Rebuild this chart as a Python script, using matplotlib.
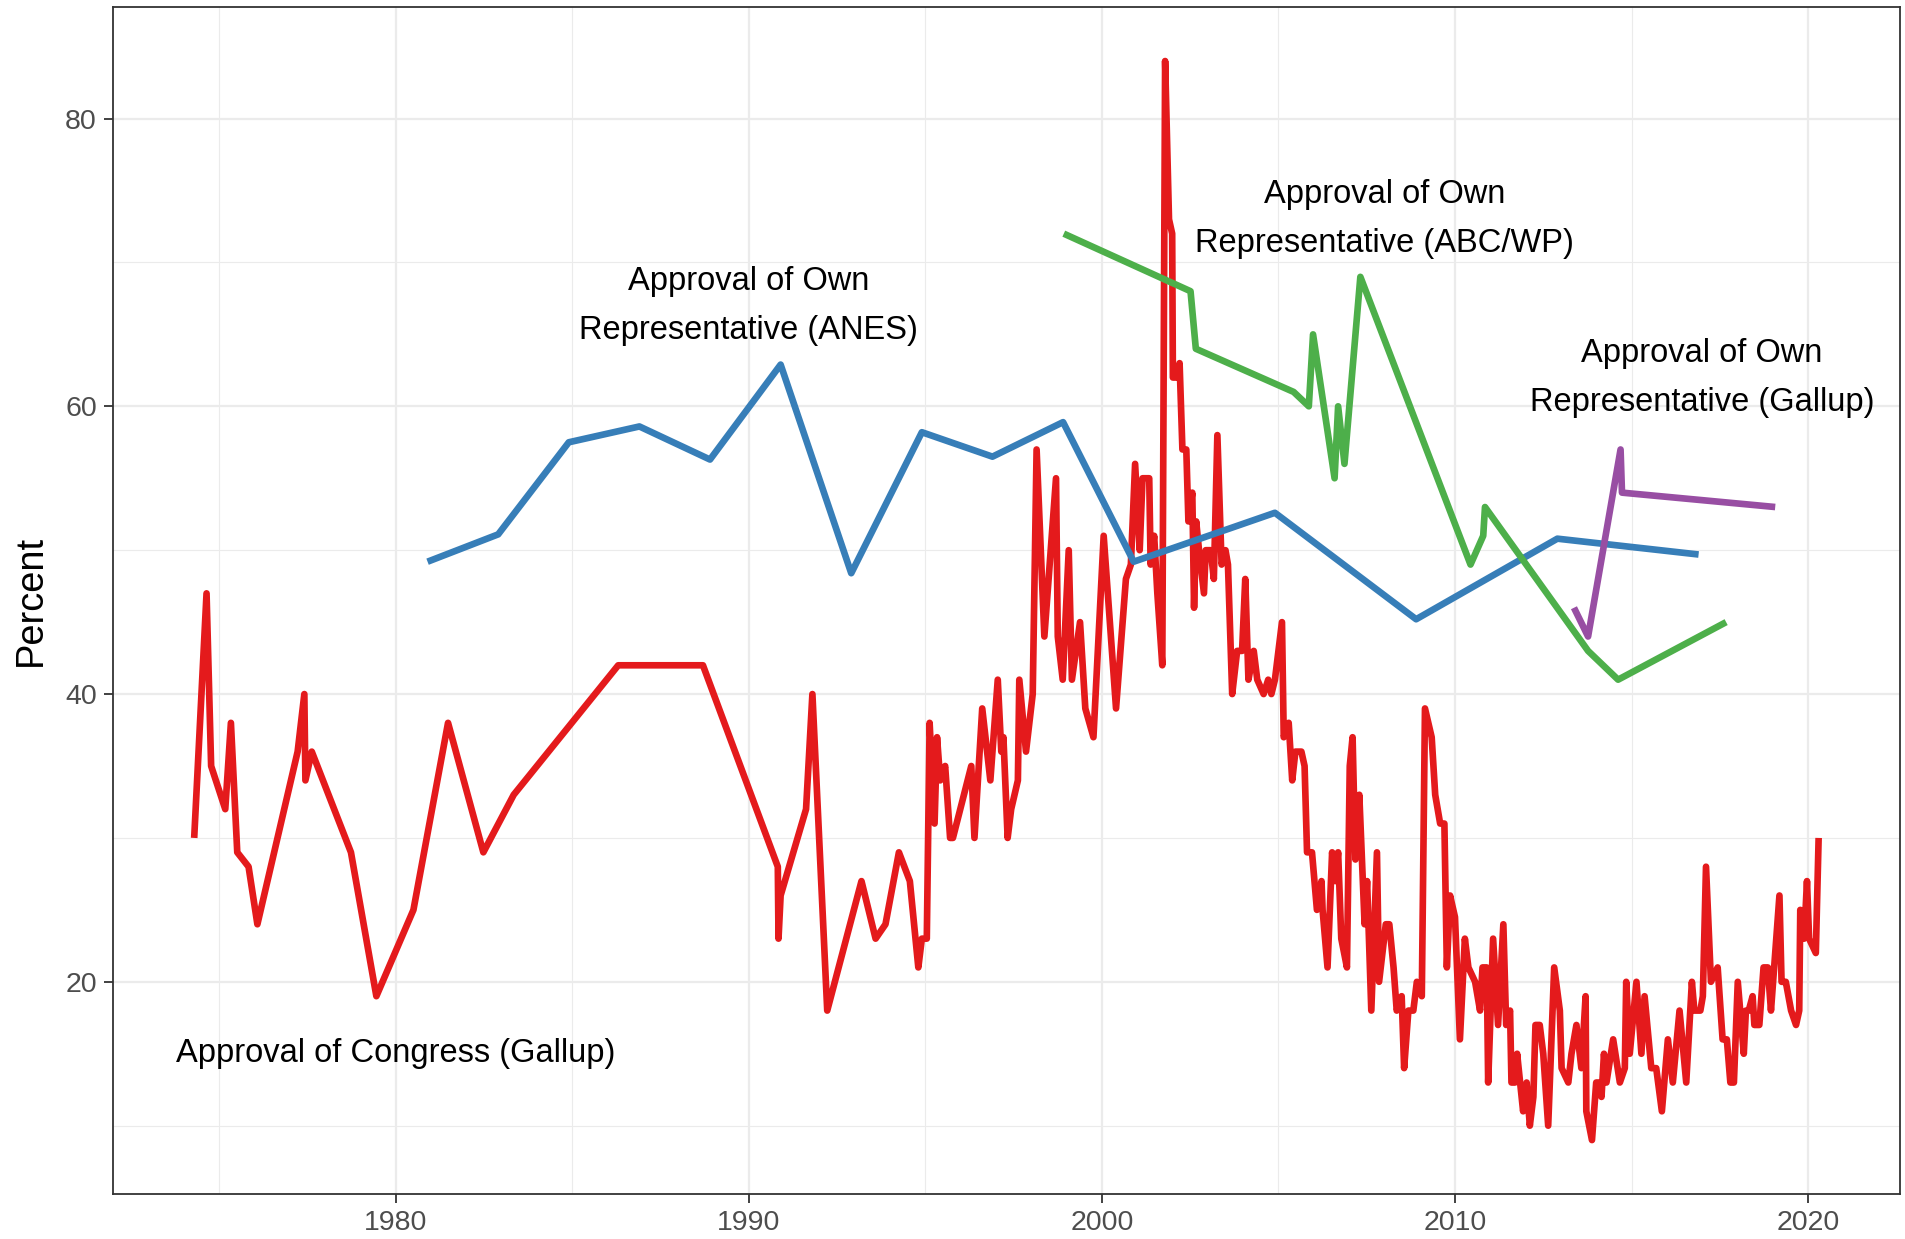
import numpy as np
import matplotlib
matplotlib.use("Agg")
import matplotlib.pyplot as plt
from matplotlib.ticker import MultipleLocator

plt.rcParams['font.family'] = ['Liberation Sans', 'DejaVu Sans']

# Gallup: approval of Congress
congress_year = [
    1974.29, 1974.64, 1974.77, 1975.17, 1975.33, 1975.51, 1975.83, 1976.08, 1977.22, 1977.41,
    1977.44, 1977.62, 1978.73, 1979.45, 1980.50, 1981.48, 1982.48, 1983.34, 1986.30, 1988.70,
    1990.82, 1990.84, 1990.90, 1991.62, 1991.80, 1992.22, 1993.19, 1993.59, 1993.87, 1994.25,
    1994.56, 1994.80, 1994.90, 1995.04, 1995.12, 1995.26, 1995.33, 1995.42, 1995.56, 1995.70,
    1995.78, 1996.30, 1996.39, 1996.61, 1996.84, 1997.05, 1997.15, 1997.21, 1997.33, 1997.43,
    1997.62, 1997.66, 1997.85, 1998.04, 1998.15, 1998.37, 1998.70, 1998.75, 1998.89, 1999.06,
    1999.15, 1999.38, 1999.53, 1999.76, 2000.05, 2000.40, 2000.68, 2000.82, 2000.94, 2001.07,
    2001.15, 2001.34, 2001.38, 2001.48, 2001.57, 2001.71, 2001.79, 2001.90, 2001.99, 2002.01,
    2002.14, 2002.20, 2002.28, 2002.39, 2002.45, 2002.56, 2002.61, 2002.67, 2002.75, 2002.89,
    2002.94, 2003.08, 2003.17, 2003.27, 2003.39, 2003.50, 2003.57, 2003.69, 2003.83, 2003.97,
    2004.06, 2004.15, 2004.30, 2004.40, 2004.58, 2004.71, 2004.80, 2004.90, 2005.10, 2005.15,
    2005.29, 2005.39, 2005.48, 2005.65, 2005.74, 2005.81, 2005.95, 2006.09, 2006.22, 2006.25,
    2006.39, 2006.52, 2006.61, 2006.69, 2006.78, 2006.94, 2007.02, 2007.10, 2007.18, 2007.29,
    2007.44, 2007.51, 2007.63, 2007.79, 2007.85, 2008.04, 2008.14, 2008.26, 2008.35, 2008.49,
    2008.56, 2008.68, 2008.82, 2008.92, 2009.06, 2009.15, 2009.34, 2009.44, 2009.58, 2009.70,
    2009.77, 2009.86, 2010.00, 2010.14, 2010.28, 2010.38, 2010.57, 2010.71, 2010.78, 2010.90,
    2010.94, 2011.08, 2011.22, 2011.37, 2011.45, 2011.56, 2011.60, 2011.70, 2011.76, 2011.93,
    2012.03, 2012.12, 2012.22, 2012.28, 2012.40, 2012.50, 2012.64, 2012.81, 2012.97, 2013.02,
    2013.21, 2013.30, 2013.44, 2013.58, 2013.70, 2013.72, 2013.88, 2014.00, 2014.08, 2014.15,
    2014.22, 2014.29, 2014.48, 2014.67, 2014.81, 2014.85, 2014.95, 2015.14, 2015.28, 2015.37,
    2015.56, 2015.70, 2015.86, 2016.03, 2016.17, 2016.36, 2016.55, 2016.71, 2016.78, 2016.95,
    2017.02, 2017.11, 2017.25, 2017.44, 2017.58, 2017.70, 2017.80, 2017.90, 2018.01, 2018.18,
    2018.24, 2018.32, 2018.43, 2018.48, 2018.62, 2018.74, 2018.86, 2018.95, 2019.19, 2019.25,
    2019.37, 2019.52, 2019.66, 2019.75, 2019.78, 2019.89, 2019.97, 2020.03, 2020.22, 2020.30,
]
congress_pct = [
    30, 47, 35, 32, 38, 29, 28, 24, 36, 40,
    34, 36, 29, 19, 25, 38, 29, 33, 42, 42,
    28, 23, 26, 32, 40, 18, 27, 23, 24, 29,
    27, 21, 23, 23, 38, 31, 37, 34, 35, 30,
    30, 35, 30, 39, 34, 41, 36, 37, 30, 32,
    34, 41, 36, 40, 57, 44, 55, 44, 41, 50,
    41, 45, 39, 37, 51, 39, 48, 49, 56, 50,
    55, 55, 49, 51, 47, 42, 84, 73, 72, 62,
    62, 63, 57, 57, 52, 54, 46, 52, 50, 47,
    50, 50, 48, 58, 49, 50, 49, 40, 43, 43,
    48, 41, 43, 41, 40, 41, 40, 41, 45, 37,
    38, 34, 36, 36, 35, 29, 29, 25, 27, 25,
    21, 29, 27, 29, 23, 21, 35, 37, 28.5, 33,
    24, 27, 18, 29, 20, 24, 24, 21, 18, 19,
    14, 18, 18, 20, 19, 39, 37, 33, 31, 31,
    21, 26, 24.5, 16, 23, 21, 20, 18, 21, 21,
    13, 23, 17, 24, 17, 18, 13, 13, 15, 11,
    13, 10, 12, 17, 17, 15, 10, 21, 18, 14,
    13, 15, 17, 14, 19, 11, 9, 13, 13, 12,
    15, 13, 16, 13, 14, 20, 15, 20, 15, 19,
    14, 14, 11, 16, 13, 18, 13, 20, 18, 18,
    19, 28, 20, 21, 16, 16, 13, 13, 20, 15,
    18, 18, 19, 17, 17, 21, 21, 18, 26, 20,
    20, 18, 17, 18, 25, 23, 27, 23, 22, 30,
]

# ANES: approval of own representative
anes_year = [1980.9, 1982.9, 1984.9, 1986.9, 1988.9, 1990.9, 1992.9, 1994.9,
             1996.9, 1998.9, 2000.9, 2004.9, 2008.9, 2012.9, 2016.9]
anes_pct = [49.2, 51.1, 57.5, 58.6, 56.3, 62.9, 48.4, 58.2,
            56.5, 58.9, 49.2, 52.6, 45.2, 50.8, 49.7]

# ABC/WP: approval of own representative
abc_year = [1998.92, 2002.51, 2002.66, 2005.43, 2005.86, 2005.98, 2006.59, 2006.69,
            2006.87, 2007.32, 2010.44, 2010.80, 2010.85, 2013.77, 2014.62, 2017.68]
abc_pct = [72, 68, 64, 61, 60, 65, 55, 60,
           56, 69, 49, 51, 53, 43, 41, 45]

# Gallup: approval of own representative
gallup_rep_year = [2013.37, 2013.77, 2014.69, 2014.73, 2019.07]
gallup_rep_pct = [46, 44, 57, 54, 53]

labels = ["Approval of Congress (Gallup)",
          "Approval of Own\nRepresentative (ANES)",
          "Approval of Own\nRepresentative (ABC/WP)",
          "Approval of Own\nRepresentative (Gallup)"]
label_x = [1980, 1990, 2008, 2017]
label_y = [15, 67, 73, 62]

fig = plt.figure(figsize=(19.05, 12.39), dpi=100)
ax = fig.add_axes([0.0593, 0.0363, 0.938, 0.958])

lw = 4.8
ax.plot(congress_year, congress_pct, color='#E41A1C', lw=lw, solid_capstyle='butt', zorder=3)
ax.plot(anes_year, anes_pct, color='#377EB8', lw=lw, solid_capstyle='butt', zorder=3)
ax.plot(abc_year, abc_pct, color='#4DAF4A', lw=lw, solid_capstyle='butt', zorder=3)
ax.plot(gallup_rep_year, gallup_rep_pct, color='#984EA3', lw=lw, solid_capstyle='butt', zorder=3)

for txt, x, y in zip(labels, label_x, label_y):
    ax.text(x, y, txt, ha='center', va='center', fontsize=23.5,
            linespacing=1.75, color='black', zorder=4)

ax.margins(x=0.05, y=0.05)

ax.xaxis.set_major_locator(MultipleLocator(10))
ax.xaxis.set_minor_locator(MultipleLocator(5))
ax.yaxis.set_major_locator(MultipleLocator(20))
ax.yaxis.set_minor_locator(MultipleLocator(10))

ax.grid(which='major', color='#EBEBEB', lw=1.6, zorder=0)
ax.grid(which='minor', color='#EBEBEB', lw=0.8, zorder=0)
ax.set_axisbelow(True)

ax.tick_params(which='major', length=6.5, width=1.3, color='#333333',
               labelsize=20.5, labelcolor='#4D4D4D', pad=5)
ax.tick_params(which='minor', length=0)
for s in ax.spines.values():
    s.set_color('#333333')
    s.set_linewidth(1.3)

ax.set_ylabel('Percent', fontsize=27.4, color='black')
ax.yaxis.set_label_coords(-0.036, 0.5)

fig.savefig('out.png', dpi=100)
